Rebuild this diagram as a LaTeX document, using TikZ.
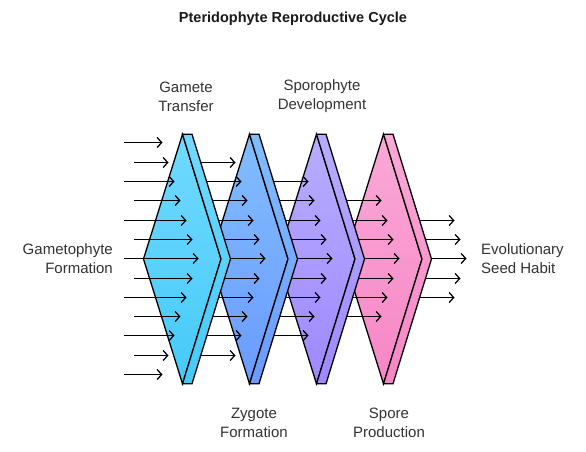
\documentclass[tikz,border=0pt]{standalone}
\usepackage{fontspec}
\setmainfont{Liberation Sans}
\usetikzlibrary{arrows.meta}
\definecolor{txt}{HTML}{333333}
\definecolor{ttl}{HTML}{1A1A1A}
\definecolor{pa}{HTML}{72D9FF}\definecolor{pb}{HTML}{44CAF8}
\definecolor{qa}{HTML}{82BDFF}\definecolor{qb}{HTML}{6A9BFF}
\definecolor{ra}{HTML}{B7ADFF}\definecolor{rb}{HTML}{9F88FF}
\definecolor{sa}{HTML}{FAA9D7}\definecolor{sb}{HTML}{F786C6}
\newcommand\myprism[3]{%
  \draw[prismline, top color=#2, bottom color=#3]
    ({#1-39},259) -- (#1,134.2) -- ({#1+38.5},259) -- (#1,383.8) -- cycle;
  \draw[prismline, top color=#2, bottom color=#3]
    (#1,134.2) -- ({#1+9.5},134.2) -- ({#1+48},259) -- ({#1+9.5},383.8)
    -- (#1,383.8) -- ({#1+38.5},259) -- cycle;
}
\newcommand\myarrows[1]{%
  \pgfmathtruncatemacro\rlo{#1}%
  \pgfmathtruncatemacro\rhi{12-#1}%
  \foreach \r in {\rlo,...,\rhi}{%
    \pgfmathsetmacro\yy{floor(258.7+19.3*(\r-6))+0.5}%
    \pgfmathsetmacro\ee{198.5+67*#1-6*abs(\r-6)}%
    \ifnum#1=0
      \pgfmathsetmacro\ss{mod(\r,2)==0 ? 124 : 134}%
    \else
      \pgfmathsetmacro\ss{182.5+67*(#1-1)+10}%
    \fi
    \coordinate (s#1-\r) at (\ss,\yy);
    \coordinate (e#1-\r) at (\ee,\yy);
    \draw[flowarrow] (s#1-\r) -- (e#1-\r);
  }%
}
\begin{document}
\begin{tikzpicture}[x=1pt,y=-1pt,
  prismline/.style={draw=black, line width=1.3pt, line join=miter},
  flowarrow/.style={draw=black, line width=1.25pt, -{Straight Barb[length=4.5pt,width=10pt,line width=1.25pt]}},
  lbl/.style={font=\fontsize{15}{19}\selectfont, text=txt, inner sep=0pt, align=center}]
\useasboundingbox[fill=white] (0,0) rectangle (586,452);
\node[font=\bfseries\fontsize{14.5}{17}\selectfont, text=ttl, inner sep=0pt] (title) at (293,19) {Pteridophyte Reproductive Cycle};
\myarrows{4}
\myprism{383.5}{sa}{sb}
\myarrows{3}
\myprism{316.5}{ra}{rb}
\myarrows{2}
\myprism{249.5}{qa}{qb}
\myarrows{1}
\myprism{182.5}{pa}{pb}
\myarrows{0}
\node[lbl] (gt) at (186,96.5) {Gamete\\Transfer};
\node[lbl] (sd) at (322,96.5) {Sporophyte\\Development};
\node[lbl] (zf) at (254,422.5) {Zygote\\Formation};
\node[lbl] (sp) at (389,422.5) {Spore\\Production};
\node[lbl, align=right, anchor=east] (gf) at (113,258.5) {Gametophyte\\Formation};
\node[lbl, align=left, anchor=west] (es) at (481,258.5) {Evolutionary\\Seed Habit};
\end{tikzpicture}
\end{document}
